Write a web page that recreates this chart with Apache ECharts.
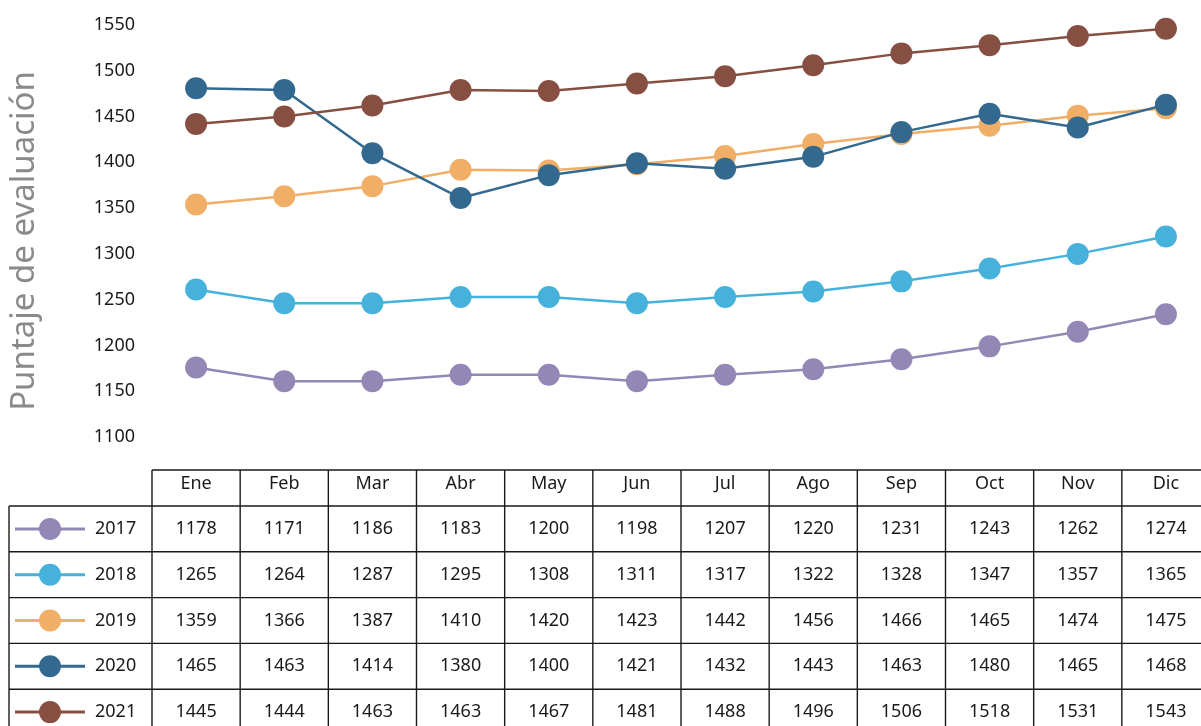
<!DOCTYPE html>
<html>
<head>
<meta charset="utf-8">
<script src="https://cdn.jsdelivr.net/npm/echarts@6/dist/echarts.min.js"></script>
<style>
  html, body { margin: 0; padding: 0; background: #fff; }
  #main { width: 1201px; height: 726px; }
</style>
</head>
<body>
<div id="main"></div>
<script>
// meses (cabecera de la tabla y eje x)
const months = ['Ene', 'Feb', 'Mar', 'Abr', 'May', 'Jun', 'Jul', 'Ago', 'Sep', 'Oct', 'Nov', 'Dic']
const years = ['2017', '2018', '2019', '2020', '2021']
const colors = ['#9387b5', '#46b2db', '#f0ae66', '#33698f', '#874f42']
const yTicks = [1100, 1550, 50]

// valores
const plot2017 = [1176, 1161, 1161, 1168, 1168, 1161, 1168, 1174, 1185, 1199, 1215, 1234]
const plot2018 = [1261, 1246, 1246, 1253, 1253, 1246, 1253, 1259, 1270, 1284, 1300, 1319]
const plot2019 = [1354, 1363, 1374, 1392, 1391, 1398, 1407, 1420, 1431, 1440, 1451, 1459]
const plot2020 = [1481, 1479, 1410, 1361, 1386, 1399, 1393, 1406, 1433, 1453, 1438, 1463]
const plot2021 = [1442, 1450, 1462, 1479, 1478, 1486, 1494, 1506, 1519, 1528, 1538, 1546]

// valores de la tabla
const table2017 = [1178, 1171, 1186, 1183, 1200, 1198, 1207, 1220, 1231, 1243, 1262, 1274]
const table2018 = [1265, 1264, 1287, 1295, 1308, 1311, 1317, 1322, 1328, 1347, 1357, 1365]
const table2019 = [1359, 1366, 1387, 1410, 1420, 1423, 1442, 1456, 1466, 1465, 1474, 1475]
const table2020 = [1465, 1463, 1414, 1380, 1400, 1421, 1432, 1443, 1463, 1480, 1465, 1468]
const table2021 = [1445, 1444, 1463, 1463, 1467, 1481, 1488, 1496, 1506, 1518, 1531, 1543]

const plotData = [plot2017, plot2018, plot2019, plot2020, plot2021]
const tableData = [table2017, table2018, table2019, table2020, table2021]

const FONT = 'Noto Sans'
const chart = echarts.init(document.getElementById('main'), null, { renderer: 'canvas' })

const option = {
  animation: false,
  backgroundColor: '#fff',
  textStyle: { fontFamily: FONT },
  grid: { left: 152, width: 1058, top: 25, height: 412, outerBoundsMode: 'none' },
  xAxis: {
    type: 'category',
    data: months,
    boundaryGap: true,
    axisLine: { show: false },
    axisTick: { show: false },
    splitLine: { show: false },
    axisLabel: { margin: 38, fontSize: 18, color: '#1a1a1a', fontFamily: FONT, interval: 0 }
  },
  yAxis: {
    type: 'value',
    min: yTicks[0],
    max: yTicks[1],
    interval: yTicks[2],
    axisLine: { show: false },
    axisTick: { show: false },
    splitLine: { show: false },
    axisLabel: { margin: 17, fontSize: 18, color: '#1a1a1a', fontFamily: FONT, formatter: v => String(v) }
  },
  series: years.map((y, i) => ({
    name: y,
    type: 'line',
    data: plotData[i],
    symbol: 'circle',
    symbolSize: 22,
    lineStyle: { color: colors[i], width: 2.5 },
    itemStyle: { color: colors[i] },
    z: 2 + i
  }))
}
chart.setOption(option)

// tabla debajo del gráfico
function buildTable () {
  const band = chart.convertToPixel({ xAxisIndex: 0 }, 1) - chart.convertToPixel({ xAxisIndex: 0 }, 0)
  const x0 = chart.convertToPixel({ xAxisIndex: 0 }, 0) - band / 2
  const xEnd = x0 + months.length * band
  const headTop = 470
  const rowTop = 506
  const rowH = 45.8
  const legLeft = 9
  const border = { stroke: '#1a1a1a', lineWidth: 1.4 }
  const els = []

  els.push({ type: 'line', shape: { x1: x0, y1: headTop, x2: xEnd, y2: headTop }, style: border })
  for (let c = 0; c <= months.length; c++) {
    const x = x0 + c * band
    els.push({ type: 'line', shape: { x1: x, y1: headTop, x2: x, y2: 740 }, style: border })
  }
  els.push({ type: 'line', shape: { x1: legLeft, y1: rowTop, x2: legLeft, y2: 740 }, style: border })
  for (let r = 0; r <= years.length; r++) {
    const y = rowTop + r * rowH
    els.push({ type: 'line', shape: { x1: legLeft, y1: y, x2: xEnd, y2: y }, style: border })
  }

  years.forEach((yr, r) => {
    const cy = rowTop + r * rowH + rowH / 2
    els.push({ type: 'line', shape: { x1: 15, y1: cy, x2: 85, y2: cy }, style: { stroke: colors[r], lineWidth: 3 } })
    els.push({ type: 'circle', shape: { cx: 50, cy: cy, r: 11 }, style: { fill: colors[r] } })
    els.push({
      type: 'text', x: 95, y: cy,
      style: { text: yr, fontSize: 18, fontFamily: FONT, fill: '#1a1a1a', align: 'left', verticalAlign: 'middle' }
    })
    tableData[r].forEach((v, c) => {
      els.push({
        type: 'text', x: x0 + c * band + band / 2, y: cy,
        style: { text: String(v), fontSize: 18, fontFamily: FONT, fill: '#1a1a1a', align: 'center', verticalAlign: 'middle' }
      })
    })
  })

  // título del eje y
  els.push({
    type: 'text', x: 25, y: 241, rotation: Math.PI / 2,
    style: { text: 'Puntaje de evaluación', fontSize: 33, fontFamily: FONT, fill: '#8a8a8a', align: 'center', verticalAlign: 'middle' }
  })

  chart.setOption({ graphic: { elements: els } })
}
buildTable()
</script>
</body>
</html>
